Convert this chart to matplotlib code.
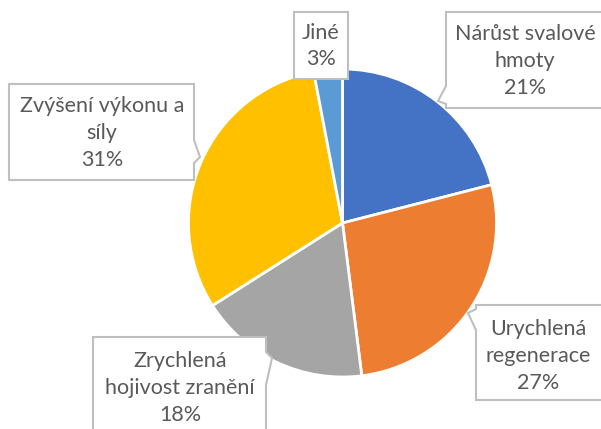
import matplotlib.pyplot as plt
from matplotlib.patches import Polygon

# data
labels = ['Nárůst svalové\nhmoty', 'Urychlená\nregenerace', 'Zrychlená\nhojivost zranění',
          'Zvýšení výkonu a\nsíly', 'Jiné']
values = [21, 27, 18, 31, 3]
colors = ['#4472C4', '#ED7D31', '#A5A5A5', '#FFC000', '#5B9BD5']

W, H = 601, 429
plt.rcParams['font.family'] = ['Lato', 'DejaVu Sans']

fig = plt.figure(figsize=(W / 100, H / 100), dpi=100)
ax = fig.add_axes([0, 0, 1, 1])

# pie: centre and radius in pixel coords (y measured from the bottom)
cx, cy, r = 342.5, H - 223, 154
ax.pie(values, colors=colors, startangle=90, counterclock=False,
       center=(cx, cy), radius=r, frame=True,
       wedgeprops=dict(edgecolor='white', linewidth=2))
ax.set_xlim(0, W)
ax.set_ylim(0, H)
ax.set_aspect('equal')
ax.axis('off')

# callout boxes: (x0, x1, y0, y1) top-origin, pointer (side, base_a, base_b, tip_x, tip_y), text centre
callouts = [
    ((446, 604, 12, 108), ('left', 86, 104, 438, 101), (525, 61)),
    ((476, 604, 305, 400), ('left', 309, 330, 468, 313), (538, 356)),
    ((93, 266, 337, 440), ('right', 352, 385, 272, 358), (180, 388)),
    ((9, 194, 84, 180), ('right', 140, 163, 200, 157), (102, 133)),
    ((294, 348, 12, 79), None, (321, 46)),
]

for i, (box, ptr, tc) in enumerate(callouts):
    x0, x1, y0, y1 = box
    pts = [(x0, y0), (x1, y0), (x1, y1), (x0, y1)]
    if ptr is not None:
        side, a, b, tx, ty = ptr
        if side == 'left':
            pts = [(x0, y0), (x1, y0), (x1, y1), (x0, y1), (x0, b), (tx, ty), (x0, a)]
        else:
            pts = [(x0, y0), (x1, y0), (x1, a), (tx, ty), (x1, b), (x1, y1), (x0, y1)]
    pts = [(px, H - py) for px, py in pts]
    ax.add_patch(Polygon(pts, closed=True, facecolor='white', edgecolor='#BFBFBF',
                         linewidth=1.5, zorder=3))
    ax.text(tc[0], H - tc[1], f'{labels[i]}\n{values[i]}%', ha='center', va='center',
            fontsize=15.5, color='#595959', linespacing=1.42, zorder=4)

fig.savefig('out.png', dpi=100)
